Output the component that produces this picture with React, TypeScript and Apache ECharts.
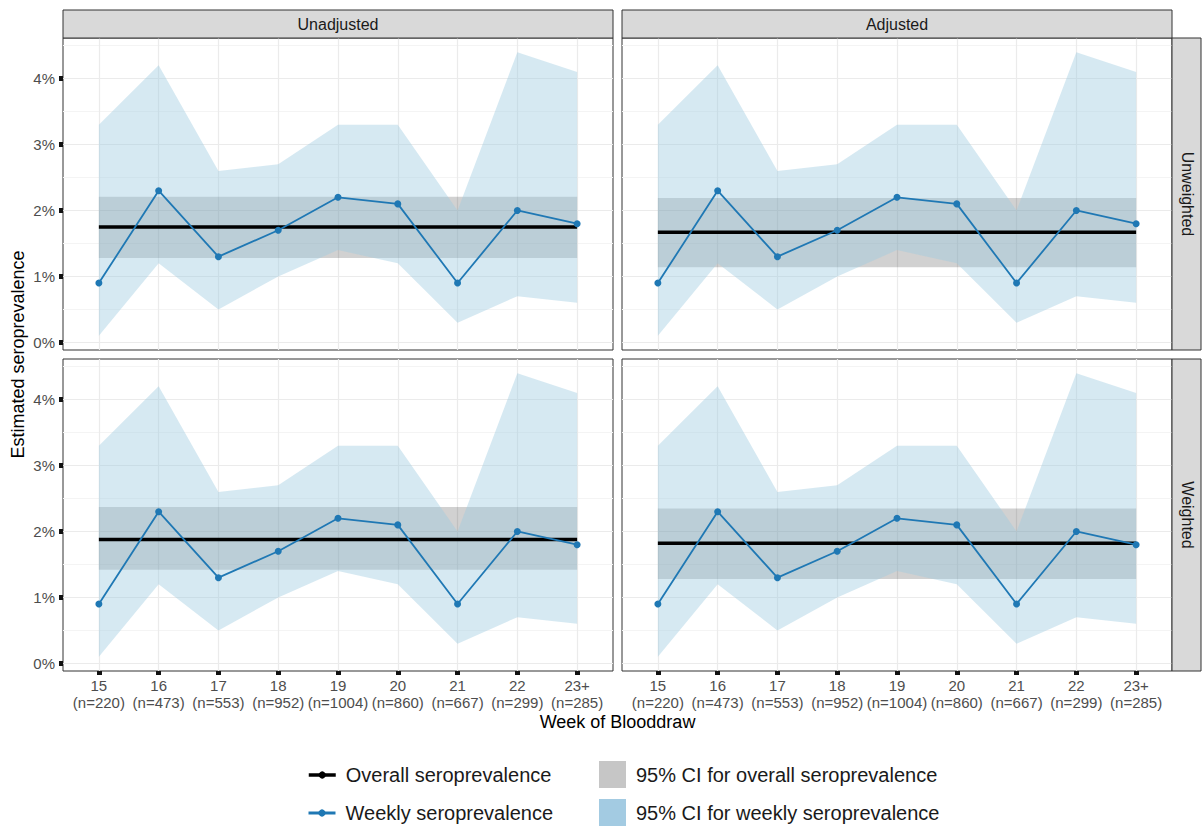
import React, { useEffect, useRef } from "react";
import * as echarts from "echarts";

// ---------- data ----------
const weeks = ["15", "16", "17", "18", "19", "20", "21", "22", "23+"];
const sampleSizes = [220, 473, 553, 952, 1004, 860, 667, 299, 285];
const weeklyEstimate = [0.9, 2.3, 1.3, 1.7, 2.2, 2.1, 0.9, 2.0, 1.8];
const weeklyLower = [0.1, 1.2, 0.5, 1.0, 1.4, 1.2, 0.3, 0.7, 0.6];
const weeklyUpper = [3.3, 4.2, 2.6, 2.7, 3.3, 3.3, 2.0, 4.4, 4.1];

const columnLabels = ["Unadjusted", "Adjusted"];
const rowLabels = ["Unweighted", "Weighted"];
// panel order: Unadjusted/Unweighted, Adjusted/Unweighted, Unadjusted/Weighted, Adjusted/Weighted
const overallEstimate = [1.75, 1.67, 1.88, 1.82];
const overallLower = [1.28, 1.14, 1.42, 1.28];
const overallUpper = [2.21, 2.19, 2.37, 2.35];

const yTicks = [0, 1, 2, 3, 4];

const legendNames = [
  "Overall seroprevalence",
  "Weekly seroprevalence",
  "95% CI for overall seroprevalence",
  "95% CI for weekly seroprevalence",
];

// ---------- layout / style ----------
const FONT = "'Liberation Sans', Arial, Helvetica, sans-serif";
const PANEL_W = 550;
const PANEL_H = 312;
const COL_LEFT = [63, 622];
const ROW_TOP = [38, 359];
const Y_MIN = -0.115;
const Y_MAX = 4.615;
const X_PAD = 0.6;
const BLUE = "#1f78b4";

function buildOption() {
  const grid: any[] = [];
  const xAxis: any[] = [];
  const yAxis: any[] = [];
  const series: any[] = [];
  const nUnits = weeks.length - 1 + 2 * X_PAD;
  const pxPerUnit = PANEL_W / nUnits;

  // frame grids (0..3)
  for (let p = 0; p < 4; p++) {
    const r = Math.floor(p / 2);
    const c = p % 2;
    grid.push({
      left: COL_LEFT[c],
      top: ROW_TOP[r],
      width: PANEL_W,
      height: PANEL_H,
      show: true,
      backgroundColor: "#ffffff",
      borderColor: "#333333",
      borderWidth: 1,
    });
    xAxis.push({ gridIndex: p, type: "value", min: 0, max: 1, show: false });
    yAxis.push({
      gridIndex: p,
      type: "value",
      min: Y_MIN,
      max: Y_MAX,
      axisLine: { show: false, onZero: false },
      axisTick: {
        show: c === 0,
        customValues: yTicks,
        length: 4,
        lineStyle: { color: "#111111", width: 5 },
      },
      axisLabel: {
        show: c === 0,
        customValues: yTicks,
        formatter: (v: number) =>
          Math.abs(v - Math.round(v)) < 1e-6 && v >= 0 ? `${Math.round(v)}%` : "",
        margin: 8,
        fontSize: 15,
        color: "#4d4d4d",
        fontFamily: FONT,
      },
      splitLine: { show: true, lineStyle: { color: "#ebebeb", width: 1.2 } },
      minorTick: { show: false, splitNumber: 2 },
      minorSplitLine: { show: true, lineStyle: { color: "#f4f4f4", width: 1 } },
    });
  }

  // data grids (4..7)
  for (let p = 0; p < 4; p++) {
    const r = Math.floor(p / 2);
    const c = p % 2;
    grid.push({
      left: COL_LEFT[c] + X_PAD * pxPerUnit,
      top: ROW_TOP[r],
      width: (weeks.length - 1) * pxPerUnit,
      height: PANEL_H,
    });
    xAxis.push({
      gridIndex: 4 + p,
      type: "category",
      position: "bottom",
      data: weeks.map((w, i) => `${w}\n(n=${sampleSizes[i]})`),
      boundaryGap: false,
      axisLine: { show: false, onZero: false },
      axisTick: {
        show: r === 1,
        length: 4,
        lineStyle: { color: "#111111", width: 5 },
      },
      axisLabel: {
        show: r === 1,
        interval: 0,
        margin: 6,
        fontSize: 15,
        lineHeight: 17,
        color: "#4d4d4d",
        fontFamily: FONT,
      },
      splitLine: { show: true, lineStyle: { color: "#ebebeb", width: 1.2 } },
    });
    yAxis.push({ gridIndex: 4 + p, type: "value", min: Y_MIN, max: Y_MAX, show: false });

    const ax = { xAxisIndex: 4 + p, yAxisIndex: 4 + p };

    // overall CI band
    series.push({
      ...ax,
      type: "line",
      name: "overallBase",
      stack: `overall${p}`,
      data: weeks.map(() => overallLower[p]),
      symbol: "none",
      lineStyle: { opacity: 0, width: 0 },
      silent: true,
      z: 1,
    });
    series.push({
      ...ax,
      type: "line",
      name: legendNames[2],
      stack: `overall${p}`,
      data: weeks.map(() => overallUpper[p] - overallLower[p]),
      symbol: "none",
      lineStyle: { opacity: 0, width: 0 },
      itemStyle: { color: "#c6c6c6" },
      areaStyle: { color: "rgba(0,0,0,0.18)", opacity: 1 },
      silent: true,
      z: 1,
    });

    // weekly CI ribbon
    series.push({
      ...ax,
      type: "line",
      name: "weeklyBase",
      stack: `weekly${p}`,
      data: weeklyLower,
      symbol: "none",
      lineStyle: { opacity: 0, width: 0 },
      silent: true,
      z: 2,
    });
    series.push({
      ...ax,
      type: "line",
      name: legendNames[3],
      stack: `weekly${p}`,
      data: weeklyUpper.map((u, i) => u - weeklyLower[i]),
      symbol: "none",
      lineStyle: { opacity: 0, width: 0 },
      itemStyle: { color: "#a3cbe2" },
      areaStyle: { color: "rgba(158,202,225,0.42)", opacity: 1 },
      silent: true,
      z: 2,
    });

    // overall estimate line
    series.push({
      ...ax,
      type: "line",
      name: legendNames[0],
      data: weeks.map(() => overallEstimate[p]),
      symbol: "none",
      itemStyle: { color: "#000000" },
      lineStyle: { color: "#000000", width: 3.5 },
      silent: true,
      z: 3,
    });

    // weekly estimate line + points
    series.push({
      ...ax,
      type: "line",
      name: legendNames[1],
      data: weeklyEstimate,
      symbol: "circle",
      symbolSize: 7,
      showSymbol: true,
      itemStyle: { color: BLUE, borderWidth: 0 },
      lineStyle: { color: BLUE, width: 1.8 },
      silent: true,
      z: 4,
    });
  }

  const graphic: any[] = [];
  columnLabels.forEach((lab, c) => {
    graphic.push({
      type: "rect",
      shape: { x: COL_LEFT[c], y: 10, width: PANEL_W, height: ROW_TOP[0] - 10 },
      style: { fill: "#d9d9d9", stroke: "#333333", lineWidth: 1 },
      z: 10,
    });
    graphic.push({
      type: "text",
      x: COL_LEFT[c] + PANEL_W / 2,
      y: 24,
      style: {
        text: lab,
        fontSize: 16,
        fill: "#1a1a1a",
        align: "center",
        verticalAlign: "middle",
        fontFamily: FONT,
      },
      z: 11,
    });
  });
  const stripX = COL_LEFT[1] + PANEL_W;
  rowLabels.forEach((lab, r) => {
    graphic.push({
      type: "rect",
      shape: { x: stripX, y: ROW_TOP[r], width: 29, height: PANEL_H },
      style: { fill: "#d9d9d9", stroke: "#333333", lineWidth: 1 },
      z: 10,
    });
    graphic.push({
      type: "text",
      x: stripX + 15,
      y: ROW_TOP[r] + PANEL_H / 2,
      rotation: -Math.PI / 2,
      style: {
        text: lab,
        fontSize: 16,
        fill: "#1a1a1a",
        align: "center",
        verticalAlign: "middle",
        fontFamily: FONT,
      },
      z: 11,
    });
  });
  graphic.push({
    type: "text",
    x: 18,
    y: (ROW_TOP[0] + ROW_TOP[1] + PANEL_H) / 2,
    rotation: Math.PI / 2,
    style: {
      text: "Estimated seroprevalence",
      fontSize: 18,
      fill: "#000000",
      align: "center",
      verticalAlign: "middle",
      fontFamily: FONT,
    },
  });
  graphic.push({
    type: "text",
    x: (COL_LEFT[0] + COL_LEFT[1] + PANEL_W) / 2,
    y: 722,
    style: {
      text: "Week of Blooddraw",
      fontSize: 18,
      fill: "#000000",
      align: "center",
      verticalAlign: "middle",
      fontFamily: FONT,
    },
  });

  const legendText = {
    fontSize: 20,
    color: "#1a1a1a",
    fontFamily: FONT,
    padding: [0, 0, 0, 5],
  };

  const lineLegend = (name: string, color: string, width: number, top: number) => ({
    left: 302,
    top,
    itemWidth: 27,
    itemHeight: 9,
    selectedMode: false,
    textStyle: legendText,
    data: [
      {
        name,
        itemStyle: { color, borderWidth: 0 },
        lineStyle: { color, width },
      },
    ],
  });
  const boxLegend = (name: string, color: string, top: number) => ({
    left: 594,
    top,
    itemWidth: 27,
    itemHeight: 27,
    icon: "rect",
    selectedMode: false,
    textStyle: legendText,
    data: [{ name, itemStyle: { color, borderWidth: 0 } }],
  });

  return {
    animation: false,
    backgroundColor: "#ffffff",
    textStyle: { fontFamily: FONT },
    grid,
    xAxis,
    yAxis,
    series,
    graphic,
    legend: [
      lineLegend(legendNames[0], "#000000", 3.5, 760),
      lineLegend(legendNames[1], BLUE, 3, 798),
      boxLegend(legendNames[2], "#c6c6c6", 756),
      boxLegend(legendNames[3], "#a3cbe2", 794),
    ],
  };
}

export default function App() {
  const ref = useRef<HTMLDivElement | null>(null);
  useEffect(() => {
    document.body.style.margin = "0";
    if (!ref.current) return;
    const chart = echarts.init(ref.current, undefined, { renderer: "svg" });
    chart.setOption(buildOption() as any);
    return () => {
      chart.dispose();
    };
  }, []);
  return (
    <div
      ref={ref}
      style={{ position: "absolute", left: 0, top: 0, width: 1203, height: 827 }}
    />
  );
}
